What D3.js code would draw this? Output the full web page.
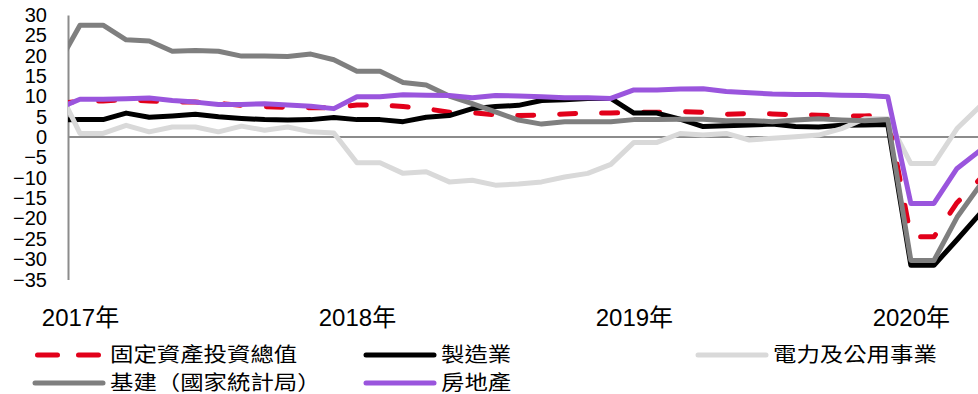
<!DOCTYPE html>
<html>
<head>
<meta charset="utf-8">
<script src="https://cdn.jsdelivr.net/npm/d3@7"></script>
<style>
  body { margin: 0; background: #fff; }
  svg { display: block; }
  text { fill: #000; }
</style>
</head>
<body>
<svg id="chart" width="978" height="394"></svg>
<script>
// Monthly observations, Dec 2016 to Apr 2020 (YoY %, cumulative)
const months = d3.timeMonth.range(new Date(2016, 11, 1), new Date(2020, 4, 1));
const yearLabels = [2017, 2018, 2019, 2020];
const yTicks = d3.range(-35, 31, 5);

const seriesNames = ["固定資產投資總值", "製造業", "電力及公用事業", "基建（國家統計局）", "房地產"];

const fixedAsset = [8.1,
  8.9, 8.9, 9.2, 8.9, 8.6, 8.6, 8.3, 7.8, 7.5, 7.3, 7.2, 7.2,
  7.9, 7.9, 7.5, 7.0, 6.1, 6.0, 5.5, 5.3, 5.4, 5.7, 5.9, 5.9,
  6.1, 6.1, 6.3, 6.1, 5.6, 5.8, 5.7, 5.5, 5.4, 5.2, 5.2, 5.4,
  -24.5, -24.5, -16.1, -10.3];

const manufacturing = [4.2,
  4.3, 4.3, 5.9, 4.9, 5.2, 5.6, 5.0, 4.6, 4.3, 4.2, 4.3, 4.8,
  4.3, 4.3, 3.8, 4.9, 5.3, 7.0, 7.5, 7.8, 9.0, 9.2, 9.5, 9.5,
  5.9, 5.9, 4.4, 2.6, 2.8, 3.0, 3.2, 2.6, 2.5, 2.9, 3.0, 3.1,
  -31.5, -31.5, -25.2, -18.8];

const utilities = [12.5,
  0.9, 0.9, 2.9, 1.3, 2.5, 2.5, 1.3, 2.7, 1.7, 2.5, 1.3, 1.0,
  -6.3, -6.3, -8.9, -8.5, -11.0, -10.6, -11.8, -11.5, -11.0, -9.8, -8.9, -6.7,
  -1.3, -1.3, 0.9, 0.5, 0.9, -0.7, -0.3, 0.1, 0.5, 2.1, 4.5, 4.5,
  -6.5, -6.5, 2.1, 7.6];

const infrastructure = [17.4,
  27.5, 27.5, 23.9, 23.6, 21.1, 21.3, 21.1, 19.9, 19.9, 19.8, 20.4, 19.0,
  16.2, 16.2, 13.4, 12.8, 10.1, 8.2, 6.2, 4.2, 3.2, 3.8, 3.8, 3.8,
  4.3, 4.3, 4.4, 4.4, 4.0, 4.1, 3.8, 4.2, 4.5, 4.2, 4.0, 4.3,
  -30.3, -30.3, -19.7, -11.8];

const realEstate = [6.9,
  9.3, 9.3, 9.4, 9.6, 9.0, 8.6, 8.0, 8.0, 8.2, 7.9, 7.6, 7.0,
  9.9, 9.9, 10.4, 10.3, 10.2, 9.7, 10.2, 10.1, 9.9, 9.7, 9.7, 9.5,
  11.6, 11.6, 11.8, 11.9, 11.2, 10.9, 10.6, 10.5, 10.5, 10.3, 10.2, 9.9,
  -16.3, -16.3, -7.7, -3.3];

// Line styles, in drawing order (first drawn at the back)
const styles = [
  { color: "#e2001a", dash: "16,26" },
  { color: "#000000", dash: null },
  { color: "#d9d9d9", dash: null },
  { color: "#7f7f7f", dash: null },
  { color: "#9a55dd", dash: null }
];
const valuesList = [fixedAsset, manufacturing, utilities, infrastructure, realEstate];
const series = seriesNames.map((name, k) => ({ name, values: valuesList[k], ...styles[k] }));

const svg = d3.select("#chart");
const W = 978, H = 394;
const plotLeft = 68, plotRight = W;

const x = d3.scaleLinear().domain([0, months.length - 1]).range([56.9, 980.1]);
const y = d3.scaleLinear().domain([-35, 30]).range([279.6, 15]);

svg.append("defs").append("clipPath").attr("id", "plot-clip")
  .append("rect").attr("x", plotLeft).attr("y", 0)
  .attr("width", plotRight - plotLeft).attr("height", H);

// Vertical value axis: line plus labels, no tick marks
const yAxis = svg.append("g")
  .attr("transform", `translate(${plotLeft},0)`)
  .call(d3.axisLeft(y).tickValues(yTicks).tickSize(0).tickSizeOuter(0).tickPadding(21));
yAxis.select(".domain").attr("stroke", "#8c8c8c").attr("stroke-width", 2);
yAxis.selectAll("text")
  .attr("font-family", "'Liberation Sans', Arial, sans-serif")
  .attr("font-size", 20)
  .attr("fill", "#000");

// Zero line
svg.append("line")
  .attr("x1", plotLeft).attr("x2", plotRight)
  .attr("y1", y(0)).attr("y2", y(0))
  .attr("stroke", "#8c8c8c").attr("stroke-width", 2);

// Year labels under the plot, placed at January of each year
const janIndex = yr => months.findIndex(m => m.getFullYear() === yr && m.getMonth() === 0);
const xAxis = svg.append("g")
  .attr("transform", "translate(0,309)")
  .call(d3.axisBottom(x)
    .tickValues(yearLabels.map(janIndex))
    .tickFormat(i => months[i].getFullYear() + "年")
    .tickSize(0).tickPadding(0));
xAxis.select(".domain").remove();
xAxis.selectAll("text")
  .attr("font-family", "'Liberation Sans', Arial, 'Noto Sans CJK TC', sans-serif")
  .attr("font-size", 24)
  .attr("fill", "#000");

// Series lines
const line = d3.line().x((d, i) => x(i)).y(d => y(d));
const plot = svg.append("g").attr("clip-path", "url(#plot-clip)");
plot.selectAll("path.series")
  .data(series)
  .join("path")
  .attr("class", "series")
  .attr("d", s => line(s.values))
  .attr("fill", "none")
  .attr("stroke", s => s.color)
  .attr("stroke-width", 5)
  .attr("stroke-linejoin", "round")
  .attr("stroke-linecap", s => s.dash ? "round" : "butt")
  .attr("stroke-dasharray", s => s.dash);

// Legend: two rows, three columns; text widths spread to fill each slot
const legendCols = [35, 366, 698];
const legendRows = [355, 383];
const legend = svg.append("g").attr("class", "legend");
series.forEach((s, k) => {
  const col = k % 3, row = Math.floor(k / 3);
  const lx = legendCols[col], ly = legendRows[row];
  const g = legend.append("g").attr("transform", `translate(${lx},${ly})`);
  g.append("line")
    .attr("x1", s.dash ? 2.5 : 0).attr("x2", s.dash ? 63.5 : 68)
    .attr("y1", 0).attr("y2", 0)
    .attr("stroke", s.color).attr("stroke-width", 5)
    .attr("stroke-linecap", "round")
    .attr("stroke-dasharray", s.dash ? "20,21" : null);
  const t = g.append("text")
    .attr("x", 75).attr("y", 7)
    .attr("font-family", "'Liberation Sans', 'Noto Sans CJK TC', 'Noto Sans CJK SC', sans-serif")
    .attr("font-size", 20)
    .text(s.name);
  const n = Array.from(s.name).length;
  t.attr("textLength", n * 23.4).attr("lengthAdjust", "spacingAndGlyphs");
});
</script>
</body>
</html>
